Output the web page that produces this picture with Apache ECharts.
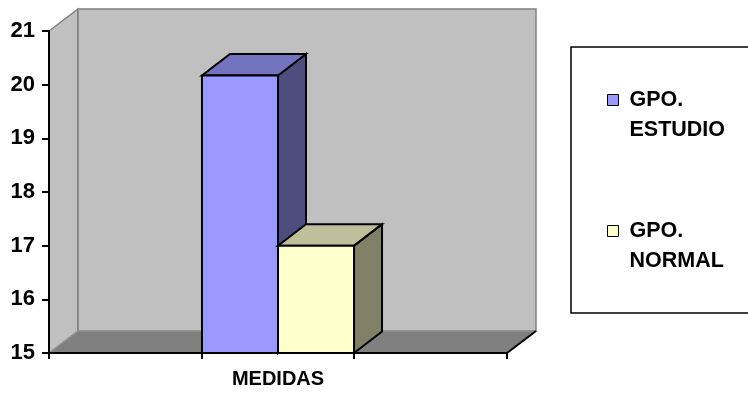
<!DOCTYPE html>
<html>
<head>
<meta charset="utf-8">
<script src="https://cdn.jsdelivr.net/npm/echarts@6/dist/echarts.min.js"></script>
<style>
  html, body { margin: 0; padding: 0; background: #ffffff; }
  #chart { width: 748px; height: 396px; }
</style>
</head>
<body>
<div id="chart"></div>
<script>
// Categories, series and value-axis range
var categories = ['MEDIDAS'];
var seriesNames = ['GPO.\nESTUDIO', 'GPO.\nNORMAL'];
var estudioValues = [20.17];
var normalValues = [17];
var axisMin = 15;
var axisMax = 21;
var axisStep = 1;

// 3D look: depth offsets (px) for the walls and for the bars
var WALL_DX = 29, WALL_DY = -22;
var BAR_DX = 28, BAR_DY = -21.5;
var BAR_FRACTION = 0.166;
var FONT = 'Arial, "Liberation Sans", sans-serif';

var chart = echarts.init(document.getElementById('chart'), null, { renderer: 'canvas' });

// Back wall, side wall and floor drawn from the grid's coordinate system
function renderWalls(params, api) {
  var cs = params.coordSys;
  var x0 = cs.x, x1 = cs.x + cs.width, yT = cs.y, yB = cs.y + cs.height;
  var dx = WALL_DX, dy = WALL_DY;
  return {
    type: 'group',
    children: [
      {
        type: 'polygon',
        shape: { points: [[x0, yT], [x0 + dx, yT + dy], [x0 + dx, yB + dy], [x0, yB]] },
        style: { fill: '#C0C0C0', stroke: '#808080', lineWidth: 1.5 }
      },
      {
        type: 'rect',
        shape: { x: x0 + dx, y: yT + dy, width: cs.width, height: cs.height },
        style: { fill: '#C0C0C0', stroke: '#808080', lineWidth: 1.5 }
      },
      {
        type: 'polygon',
        shape: { points: [[x0, yB], [x1, yB], [x1 + dx, yB + dy], [x0 + dx, yB + dy]] },
        style: { fill: '#808080', stroke: '#999999', lineWidth: 1 }
      },
      {
        type: 'line',
        shape: { x1: x1, y1: yB, x2: x1 + dx, y2: yB + dy },
        style: { stroke: '#000000', lineWidth: 2 }
      }
    ]
  };
}

// A 3D box for one bar; slot -1 sits left of the band centre, slot 0 right of it
function makeBarRenderer(slot, front, topFace, sideFace, tickLeft) {
  return function (params, api) {
    var top = api.coord([api.value(0), api.value(1)]);
    var base = api.coord([api.value(0), axisMin]);
    var band = api.size([1, 0])[0];
    var w = band * BAR_FRACTION;
    var xl = top[0] + slot * w;
    var xr = xl + w;
    var ty = top[1], by = base[1];
    var dx = BAR_DX, dy = BAR_DY;
    var edge = { stroke: '#000000', lineWidth: 2, lineJoin: 'miter' };
    var tx = tickLeft ? xl : xr;
    return {
      type: 'group',
      children: [
        {
          type: 'polygon',
          shape: { points: [[xr, ty], [xr + dx, ty + dy], [xr + dx, by + dy], [xr, by]] },
          style: Object.assign({ fill: sideFace }, edge)
        },
        {
          type: 'polygon',
          shape: { points: [[xl, ty], [xr, ty], [xr + dx, ty + dy], [xl + dx, ty + dy]] },
          style: Object.assign({ fill: topFace }, edge)
        },
        {
          type: 'rect',
          shape: { x: xl, y: ty, width: w, height: by - ty },
          style: Object.assign({ fill: front }, edge)
        },
        {
          type: 'line',
          shape: { x1: tx, y1: by, x2: tx, y2: by + 6 },
          style: { stroke: '#000000', lineWidth: 2 }
        }
      ]
    };
  };
}

var option = {
  backgroundColor: '#ffffff',
  animation: false,
  grid: { left: 49, right: 241, top: 31, bottom: 43, containLabel: false },
  xAxis: {
    type: 'category',
    data: categories,
    boundaryGap: true,
    axisLine: { show: true, lineStyle: { color: '#000000', width: 2 } },
    axisTick: { show: true, alignWithLabel: false, length: 6, lineStyle: { color: '#000000', width: 2 } },
    axisLabel: { color: '#000000', fontFamily: FONT, fontWeight: 'bold', fontSize: 20, margin: 16 },
    splitLine: { show: false }
  },
  yAxis: {
    type: 'value',
    min: axisMin,
    max: axisMax,
    interval: axisStep,
    axisLine: { show: true, lineStyle: { color: '#000000', width: 2 } },
    axisTick: { show: true, length: 7, lineStyle: { color: '#000000', width: 2 } },
    axisLabel: { color: '#000000', fontFamily: FONT, fontWeight: 'bold', fontSize: 22, margin: 14 },
    splitLine: { show: false }
  },
  legend: {
    orient: 'vertical',
    left: 607,
    top: 55,
    padding: 0,
    itemGap: 41,
    itemWidth: 11,
    itemHeight: 11,
    icon: 'rect',
    selectedMode: false,
    data: seriesNames,
    // an empty first line puts the icon level with "GPO."
    formatter: function (name) { return '\n' + name; },
    itemStyle: { borderColor: '#000000', borderWidth: 1 },
    textStyle: {
      color: '#000000', fontFamily: FONT, fontWeight: 'bold', fontSize: 21.5,
      lineHeight: 30, padding: [0, 0, 0, 6]
    }
  },
  graphic: [
    {
      type: 'rect',
      z: 0,
      shape: { x: 571, y: 47, width: 220, height: 266 },
      style: { fill: '#ffffff', stroke: '#000000', lineWidth: 1.5 }
    }
  ],
  series: [
    {
      type: 'custom',
      name: 'walls',
      z: -1,
      silent: true,
      renderItem: renderWalls,
      data: [[0, axisMin]]
    },
    {
      type: 'custom',
      name: seriesNames[0],
      itemStyle: { color: '#9999FF' },
      renderItem: makeBarRenderer(-1, '#9999FF', '#7373BF', '#4D4D80', true),
      data: estudioValues.map(function (v, i) { return [i, v]; })
    },
    {
      type: 'custom',
      name: seriesNames[1],
      itemStyle: { color: '#FFFFCC' },
      renderItem: makeBarRenderer(0, '#FFFFCC', '#BFBF99', '#808066', false),
      data: normalValues.map(function (v, i) { return [i, v]; })
    }
  ]
};

chart.setOption(option);
</script>
</body>
</html>
